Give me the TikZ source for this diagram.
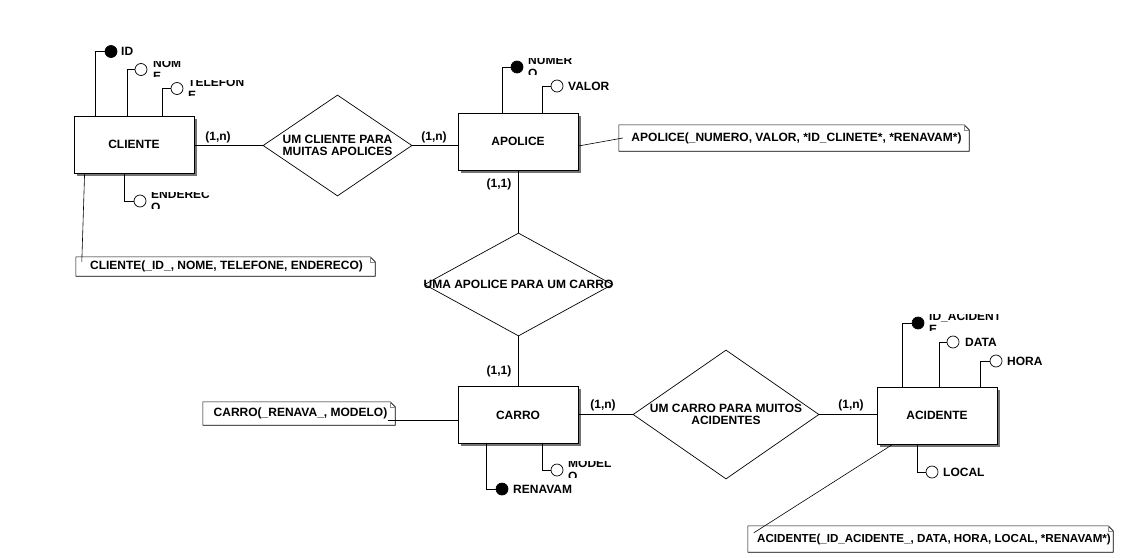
\documentclass[tikz,border=0pt]{standalone}
\usepackage{fontspec}
\setmainfont{Liberation Sans}
\usetikzlibrary{shapes.geometric,shadows}
\newcommand\drawnote[1]{%
  \draw[noteline] (#1.north west) -- ([xshift=-5pt]#1.north east) -- ([yshift=-5pt]#1.north east) -- (#1.south east) -- (#1.south west) -- cycle;
  \draw[noteline,black!45] ([xshift=-5pt]#1.north east) -- ([xshift=-5pt,yshift=-5pt]#1.north east) -- ([yshift=-5pt]#1.north east);}
% two-line clipped attribute label: #1 name, #2 x, #3 circle y, #4 line1, #5 line2
\newcommand\cliplabel[5]{%
  \begin{scope}
  \clip (#2-2,#3-8.5) rectangle (#2+110,#3+7);
  \node[attrbase] (#1) at (#2,#3-2.5) {#4};
  \node[attrbase] (#12) at (#2,#3+10.5) {#5};
  \end{scope}}
\begin{document}
\begin{tikzpicture}[x=1pt,y=-1pt,
  every node/.style={font=\fontsize{12}{12.5}\selectfont\bfseries},
  entity/.style={draw, line width=0.8pt, fill=white, minimum width=120pt, minimum height=57pt, inner sep=0pt,
    drop shadow={shadow xshift=2.5pt, shadow yshift=-2.5pt, fill=black!55, opacity=1}},
  rel/.style={draw, diamond, line width=0.7pt, inner sep=0pt},
  reltext/.style={align=center, inner sep=0pt},
  conn/.style={line width=0.8pt},
  card/.style={inner sep=0pt},
  attrf/.style={draw, circle, line width=0.7pt, fill=black, minimum size=12pt, inner sep=0pt},
  attro/.style={draw, circle, line width=0.7pt, fill=white, minimum size=12pt, inner sep=0pt},
  attrlab/.style={anchor=west, inner sep=0pt},
  attrbase/.style={anchor=base west, inner sep=0pt},
  notebox/.style={inner sep=0pt},
  noteline/.style={line width=0.6pt},
]
\useasboundingbox (0,0) rectangle (1126,557);

% entities
\node[entity] (cliente) at (134,144.5) {CLIENTE};
\node[entity] (apolice) at (518,141.5) {APOLICE};
\node[entity] (carro) at (518,415) {CARRO};
\node[entity] (acidente) at (937,415.5) {ACIDENTE};

% relationships
\node[rel, minimum width=149pt, minimum height=101pt] (d1) at (337.5,145.5) {};
\node[reltext] (t1) at (d1.center) {UM CLIENTE PARA\\MUITAS APOLICES};
\node[rel, minimum width=188pt, minimum height=103pt] (d2) at (518.5,284.5) {};
\node[reltext] (t2) at (d2.center) {UMA APOLICE PARA UM CARRO};
\node[rel, minimum width=186pt, minimum height=129pt] (d3) at (726,414.5) {};
\node[reltext] (t3) at (d3.center) {UM CARRO PARA MUITOS\\ACIDENTES};

% connectors
\draw[conn] (d1.west -| cliente.east) -- (d1.west);
\draw[conn] (d1.east) -- (d1.east -| apolice.west);
\draw[conn] (d2.north |- apolice.south) -- (d2.north);
\draw[conn] (d2.south) -- (d2.south |- carro.north);
\draw[conn] (d3.west -| carro.east) -- (d3.west);
\draw[conn] (d3.east) -- (d3.east -| acidente.west);

% cardinalities
\node[card] (c1) at (218,137) {(1,n)};
\node[card] (c2) at (434,137) {(1,n)};
\node[card] (c3) at (499,184) {(1,1)};
\node[card] (c4) at (499,371) {(1,1)};
\node[card] (c5) at (603,405) {(1,n)};
\node[card] (c6) at (851,405) {(1,n)};

% CLIENTE attributes
\node[attrf] (aID) at (111,51.5) {};
\draw[conn] (95.5,0 |- cliente.north) |- (aID.west);
\node[attrlab] (lID) at (121,51.5) {ID};

\node[attro] (aNOME) at (141,69.5) {};
\draw[conn] (127,0 |- cliente.north) |- (aNOME.west);
\cliplabel{lNOME}{153}{69.5}{NOM}{E}

\node[attro] (aTEL) at (177,88.5) {};
\draw[conn] (162,0 |- cliente.north) |- (aTEL.west);
\cliplabel{lTEL}{188}{88.5}{TELEFON}{E}

\node[attro] (aEND) at (140,201) {};
\draw[conn] (124,0 |- cliente.south) |- (aEND.west);
\cliplabel{lEND}{151}{201}{ENDEREC}{O}

% APOLICE attributes
\node[attrf] (aNUM) at (517,67) {};
\draw[conn] (502,0 |- apolice.north) |- (aNUM.west);
\cliplabel{lNUM}{528}{67}{NUMER}{O}

\node[attro] (aVAL) at (557,86) {};
\draw[conn] (542,0 |- apolice.north) |- (aVAL.west);
\node[attrlab] (lVAL) at (568,86) {VALOR};

% CARRO attributes
\node[attrf] (aREN) at (502,489) {};
\draw[conn] (486,0 |- carro.south) |- (aREN.west);
\node[attrlab] (lREN) at (513,489) {RENAVAM};

\node[attro] (aMOD) at (557,470) {};
\draw[conn] (542,0 |- carro.south) |- (aMOD.west);
\cliplabel{lMOD}{568}{470}{MODEL}{O}

% ACIDENTE attributes
\node[attrf] (aIDA) at (918,323) {};
\draw[conn] (902,0 |- acidente.north) |- (aIDA.west);
\cliplabel{lIDA}{929}{323}{ID\_ACIDENT}{E}

\node[attro] (aDATA) at (953,342) {};
\draw[conn] (939,0 |- acidente.north) |- (aDATA.west);
\node[attrlab] (lDATA) at (965,342) {DATA};

\node[attro] (aHORA) at (996,361) {};
\draw[conn] (980,0 |- acidente.north) |- (aHORA.west);
\node[attrlab] (lHORA) at (1007,361) {HORA};

\node[attro] (aLOC) at (932,472) {};
\draw[conn] (917,0 |- acidente.south) |- (aLOC.west);
\node[attrlab] (lLOC) at (943,472) {LOCAL};

% notes
\node[notebox, minimum width=299pt, minimum height=19pt] (nCli) at (225.5,266.5) {\hspace{2pt}CLIENTE(\_ID\_, NOME, TELEFONE, ENDERECO)};
\drawnote{nCli}
\draw[noteline] ([xshift=11pt]cliente.south west) -- ([xshift=6pt,yshift=-5pt]nCli.north west);

\node[notebox, minimum width=350pt, minimum height=26pt] (nApo) at (794,138) {\hspace{5pt}APOLICE(\_NUMERO, VALOR, *ID\_CLINETE*, *RENAVAM*)};
\drawnote{nApo}
\draw[noteline] (apolice.east |- 0,146) -- ([xshift=4pt]nApo.west);

\node[notebox, minimum width=192pt, minimum height=23pt] (nCar) at (299,413.5) {\hspace{3pt}CARRO(\_RENAVA\_, MODELO)};
\drawnote{nCar}
\draw[noteline] ([xshift=-7pt,yshift=5pt]nCar.south east) coordinate (nCarEnd) -- (nCarEnd -| carro.west);

\node[notebox, minimum width=365pt, minimum height=26pt, font=\fontsize{11.6}{12}\selectfont\bfseries] (nAci) at (930.5,539) {\hspace{7pt}ACIDENTE(\_ID\_ACIDENTE\_, DATA, HORA, LOCAL, *RENAVAM*)};
\drawnote{nAci}
\draw[noteline] ([xshift=16pt]acidente.south west) -- ([xshift=6pt,yshift=-7pt]nAci.north west);
\end{tikzpicture}
\end{document}
